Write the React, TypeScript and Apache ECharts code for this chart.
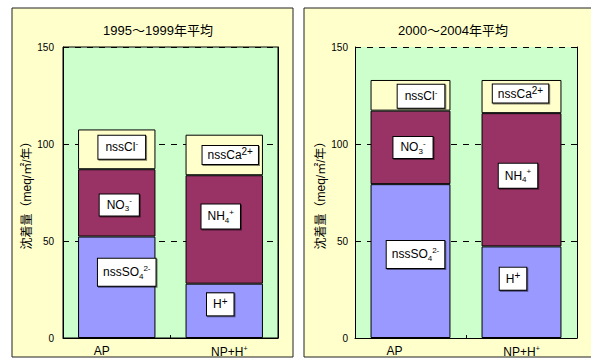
import React, { useEffect, useRef } from "react";
import * as echarts from "echarts";

const categories = ["AP", "NP+H+"];
const titles = ["1995～1999年平均", "2000～2004年平均"];
const yAxisName = "沈着量（meq/㎡/年）";
const yMin = 0;
const yMax = 150;
const yInterval = 50;

// segment values (meq/m2/year): lower / middle / upper per category
const p1Lower = [52.3, 28.0];
const p1Middle = [34.7, 55.9];
const p1Upper = [20.5, 20.9];
const p2Lower = [79.3, 47.2];
const p2Middle = [37.9, 68.7];
const p2Upper = [15.8, 17.1];

const lowerLabels = ["{t|nssSO}{sub|4}{sup|2-}", "{t|H}{sup2|+}"];
const middleLabels = ["{t|NO}{sub|3}{sup|-}", "{t|NH}{sub|4}{sup|+}"];
const upperLabels = ["{t|nssCl}{sup|-}", "{t|nssCa}{sup2|2+}"];

const FONT = '"Liberation Sans", "Noto Sans CJK JP", sans-serif';

const rich = {
  t: { fontSize: 12, lineHeight: 16, color: "#000", fontFamily: FONT },
  sup: { fontSize: 8, lineHeight: 8, verticalAlign: "top", color: "#000", fontFamily: FONT },
  sup2: { fontSize: 10, lineHeight: 10, verticalAlign: "top", color: "#000", fontFamily: FONT },
  sub: { fontSize: 8, lineHeight: 8, verticalAlign: "bottom", color: "#000", fontFamily: FONT },
};

const layout = {
  p1: {
    lower: [[10, -15], [-4, -6.5]],
    middle: [[2.5, 2], [-3.5, -13]],
    upper: [[5, -2], [6, 0]],
  },
  p2: {
    lower: [[5, -6.7], [-8.5, -13.5]],
    middle: [[2.5, 0], [-3.5, -4]],
    upper: [[10.5, 1], [-1, -3]],
  },
};

const labelPad = {
  lower: [[5.5, 5], [3, 6]],
  middle: [[2.5, 7], [4, 6]],
  upper: [[3.5, 7], [1, 5]],
};

const COLORS = { lower: "#9999FF", middle: "#993366", upper: "#FFFFCC" };

function makeSeries(
  name: string,
  values: number[],
  labels: string[],
  offsets: number[][],
  pads: number[][],
  color: string,
  axisIndex: number,
  stack: string
) {
  return {
    name,
    type: "bar",
    stack,
    xAxisIndex: axisIndex,
    yAxisIndex: axisIndex * 2,
    barWidth: "72%",
    itemStyle: { color, borderColor: "#000", borderWidth: 1 },
    label: {
      show: true,
      position: "inside",
      backgroundColor: "#fff",
      borderColor: "#000",
      borderWidth: 1,
      shadowColor: "rgba(0,0,0,0.5)",
      shadowOffsetX: 1,
      shadowOffsetY: 1,
      rich,
    },
    data: values.map((v, i) => ({
      value: v,
      label: { formatter: labels[i], offset: offsets[i], padding: pads[i] },
    })),
  };
}

function App() {
  const ref = useRef<HTMLDivElement>(null);
  useEffect(() => {
    if (!ref.current) return;
    const chart = echarts.init(ref.current, null, { renderer: "svg" });

    const grids = [
      { left: 63, top: 47, width: 215, height: 294 },
      { left: 355, top: 47, width: 222, height: 294 },
    ];

    const xLabelPad = [
      [[0, 30, 0, 0], [0, 0, 0, 10]],
      [[0, 32, 0, 0], [0, 0, 0, 0]],
    ];

    const xAxes = grids.map((_, gi) => ({
      type: "category",
      gridIndex: gi,
      data: categories,
      axisLine: { show: true, lineStyle: { color: "#000", width: 1 } },
      axisTick: { show: true, inside: true, length: 3, interval: 0, lineStyle: { color: "#000" } },
      axisLabel: {
        margin: 7,
        interval: 0,
        formatter: (v: string) =>
          v === "AP" ? "{a" + gi + "|AP}" : "{b" + gi + "|NP+H}{s" + gi + "|+}",
        rich: {
          ["a" + gi]: { fontSize: 12, color: "#000", fontFamily: FONT, padding: xLabelPad[gi][0] },
          ["b" + gi]: { fontSize: 12, color: "#000", fontFamily: FONT, padding: xLabelPad[gi][1], lineHeight: 14 },
          ["s" + gi]: { fontSize: 7, color: "#000", fontFamily: FONT, verticalAlign: "top", lineHeight: 7 },
        },
      },
    }));

    const yAxes: any[] = [];
    grids.forEach((_, gi) => {
      yAxes.push({
        type: "value",
        gridIndex: gi,
        min: yMin,
        max: yMax,
        interval: yInterval,
        name: yAxisName,
        nameLocation: "middle",
        nameGap: gi === 0 ? 29 : 27,
        nameTextStyle: { fontSize: 12, color: "#000", fontFamily: FONT },
        axisLine: { show: true, lineStyle: { color: "#000", width: 1 } },
        axisTick: { show: true, inside: true, length: 6, lineStyle: { color: "#000" } },
        axisLabel: { margin: gi === 0 ? 9 : 7, fontSize: 10, color: "#000", fontFamily: FONT },
        splitLine: { show: true, lineStyle: { color: "#000", type: [6, 6], width: 1 } },
      });
      yAxes.push({
        type: "value",
        gridIndex: gi,
        position: "right",
        min: yMin,
        max: yMax,
        interval: yInterval,
        axisLine: { show: true, lineStyle: { color: "#000", width: 1 } },
        axisTick: { show: false },
        axisLabel: { show: false },
        splitLine: { show: false },
      });
    });

    const titleStyle = { fontSize: 13, fontWeight: "normal", color: "#000", fontFamily: FONT };

    const option = {
      animation: false,
      textStyle: { fontFamily: FONT },
      title: [
        { text: titles[0], left: 153, top: 19, textAlign: "center", textStyle: titleStyle },
        { text: titles[1], left: 448, top: 19, textAlign: "center", textStyle: titleStyle },
      ],
      graphic: [
        {
          type: "rect",
          z: -10,
          shape: { x: 12, y: 8, width: 281, height: 349 },
          style: { fill: "#FFFFCC", stroke: "#222", lineWidth: 1 },
        },
        {
          type: "rect",
          z: -10,
          shape: { x: 304, y: 8, width: 300, height: 349 },
          style: { fill: "#FFFFCC", stroke: "#222", lineWidth: 1 },
        },
      ],
      grid: grids.map((g, gi) => ({
        ...g,
        show: true,
        backgroundColor: "#CCFFCC",
        borderWidth: gi === 0 ? 1 : 0,
        borderColor: "#000",
      })),
      xAxis: xAxes,
      yAxis: yAxes,
      series: [
        makeSeries("p1-lower", p1Lower, lowerLabels, layout.p1.lower, labelPad.lower, COLORS.lower, 0, "s1"),
        makeSeries("p1-middle", p1Middle, middleLabels, layout.p1.middle, labelPad.middle, COLORS.middle, 0, "s1"),
        makeSeries("p1-upper", p1Upper, upperLabels, layout.p1.upper, labelPad.upper, COLORS.upper, 0, "s1"),
        makeSeries("p2-lower", p2Lower, lowerLabels, layout.p2.lower, labelPad.lower, COLORS.lower, 1, "s2"),
        makeSeries("p2-middle", p2Middle, middleLabels, layout.p2.middle, labelPad.middle, COLORS.middle, 1, "s2"),
        makeSeries("p2-upper", p2Upper, upperLabels, layout.p2.upper, labelPad.upper, COLORS.upper, 1, "s2"),
      ],
    };
    chart.setOption(option as any);
    return () => chart.dispose();
  }, []);
  return (
    <div
      ref={ref}
      style={{ position: "fixed", left: 0, top: 0, width: 591, height: 358, background: "#fff" }}
    />
  );
}

export default App;
